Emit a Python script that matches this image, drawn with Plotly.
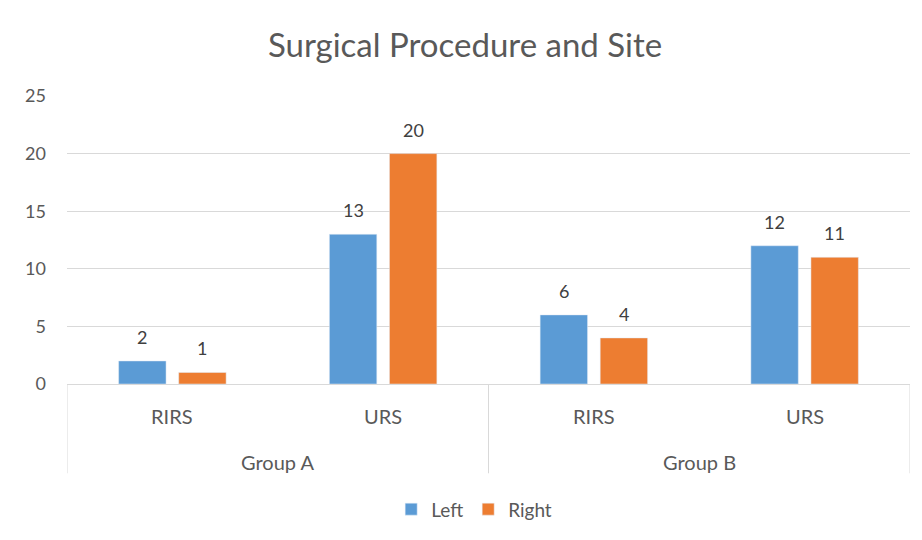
import plotly.graph_objects as go

groups = ["Group A", "Group A", "Group B", "Group B"]
procedures = ["RIRS", "URS", "RIRS", "URS"]
left_vals = [2, 13, 6, 12]
right_vals = [1, 20, 4, 11]

BLUE, ORANGE = "#5B9BD5", "#ED7D31"
TXT = "#595959"
LINE = "#D9D9D9"
FONT = "Lato, Open Sans, sans-serif"

idx = list(range(len(procedures)))
bw = 0.225
offs = {"Left": -0.255, "Right": 0.03}

fig = go.Figure()
fig.add_trace(go.Bar(x=idx, y=left_vals, name="Left", marker_color=BLUE,
                     width=bw, offset=offs["Left"], hoverinfo="y"))
fig.add_trace(go.Bar(x=idx, y=right_vals, name="Right", marker_color=ORANGE,
                     width=bw, offset=offs["Right"], hoverinfo="y"))

ann = []
for name, vals in (("Left", left_vals), ("Right", right_vals)):
    for i, v in zip(idx, vals):
        ann.append(dict(x=i + offs[name] + bw / 2, y=v, xref="x", yref="y", text=str(v),
                        showarrow=False, yshift=24, font=dict(size=18, color="#404040", family=FONT)))
# inner category labels
for i, p in zip(idx, procedures):
    ann.append(dict(x=i, y=0, xref="x", yref="y", text=p, showarrow=False, yshift=-32,
                    font=dict(size=20, color=TXT, family=FONT)))
# outer group labels and dividers
shapes = []
bounds = [-0.5]
start = 0
for i in range(1, len(groups) + 1):
    if i == len(groups) or groups[i] != groups[start]:
        ann.append(dict(x=(start + i - 1) / 2, y=0, xref="x", yref="y", text=groups[start],
                        showarrow=False, yshift=-78, font=dict(size=20, color=TXT, family=FONT)))
        bounds.append(i - 0.5)
        start = i
for b in bounds:
    shapes.append(dict(type="line", xref="x", yref="paper", x0=b, x1=b, y0=0, y1=-0.31,
                       line=dict(color=LINE, width=1)))

fig.update_layout(
    width=914, height=532,
    paper_bgcolor="#FFFFFF", plot_bgcolor="#FFFFFF",
    font=dict(family=FONT, color=TXT, size=16),
    title=dict(text="Surgical Procedure and Site", x=0.5, xanchor="center", y=0.9305, yanchor="middle",
               font=dict(size=33, color=TXT)),
    margin=dict(l=59, r=12, t=88, b=144),
    showlegend=True,
    legend=dict(orientation="h", x=0.483, xanchor="center", y=-0.435, yanchor="middle",
                font=dict(size=19, color=TXT), itemwidth=30, tracegroupgap=0),
    yaxis=dict(range=[0, 25], dtick=5, showgrid=True, gridcolor=LINE, gridwidth=1,
               zeroline=False, showline=False, ticks="", ticklabelstandoff=20, automargin=False,
               tickfont=dict(size=18, color=TXT)),
    xaxis=dict(range=[-0.5, 3.5], showline=True, linecolor=LINE, showgrid=False, zeroline=False,
               showticklabels=False, ticks="", automargin=False),
    annotations=ann, shapes=shapes,
)

fig.write_html("out.html")
